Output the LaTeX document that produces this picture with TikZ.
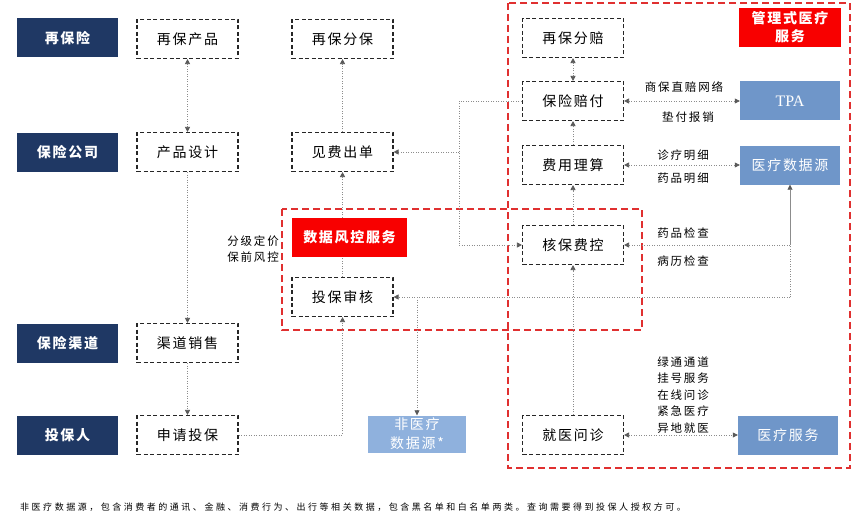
\documentclass[tikz,border=0pt]{standalone}
\usepackage{fontspec}
\setmainfont{Noto Sans CJK SC}
\newfontfamily\cjk[LetterSpace=12]{Noto Sans CJK SC}
\newfontfamily\cjkl[LetterSpace=16]{Noto Sans CJK SC}
\newfontfamily\cjkf[LetterSpace=28]{Noto Sans CJK SC}
\newfontfamily\tpaf{Liberation Serif}
\usetikzlibrary{arrows.meta}
\definecolor{navyc}{HTML}{1F3864}
\definecolor{bluec}{HTML}{6F96C9}
\definecolor{bluel}{HTML}{8FB1DD}
\definecolor{redc}{HTML}{F80000}
\definecolor{framec}{HTML}{E03030}
\definecolor{connc}{HTML}{8C8C8C}
\definecolor{tipc}{HTML}{595959}
\begin{document}
\begin{tikzpicture}[x=1pt,y=-1pt,
  base/.style={minimum width=101pt, minimum height=39pt, inner sep=0pt, align=center,
    font=\cjk\fontsize{14}{18}\selectfont},
  navy/.style={base, fill=navyc, text=white, font=\cjk\bfseries\fontsize{14}{18}\selectfont},
  dbox/.style={base, draw=black!85, line width=1.1pt, dash pattern=on 4pt off 2.5pt, fill=white},
  bbox/.style={base, fill=bluec, text=white, minimum width=100pt},
  rbox/.style={base, fill=redc, text=white, font=\cjk\bfseries\fontsize{14}{18}\selectfont},
  frame/.style={draw=framec, line width=2pt, dash pattern=on 7pt off 4pt},
  conn/.style={draw=connc, line width=0.7pt, dash pattern=on 1pt off 1.5pt},
  arr/.style={conn, -{Triangle[length=5pt,width=5pt,color=tipc]}},
  arrb/.style={conn, {Triangle[length=5pt,width=5pt,color=tipc]}-{Triangle[length=5pt,width=5pt,color=tipc]}},
  lbl/.style={inner sep=0pt, font=\cjkl\fontsize{11.5}{16.5}\selectfont, align=center}
]
\useasboundingbox (0,0) rectangle (864,516);
\fill[white] (0,0) rectangle (864,516);

% frames
\draw[frame] (508,3) rectangle (850,468);
\draw[frame] (282,209) rectangle (642,330);

% left navy boxes
\node[navy] (n1) at (67.5,38) {再保险};
\node[navy] (n2) at (67.5,152) {保险公司};
\node[navy] (n3) at (67.5,343) {保险渠道};
\node[navy] (n4) at (67.5,435) {投保人};

% column 2
\node[dbox] (zbcp) at (187.5,39) {再保产品};
\node[dbox] (cpsj) at (187.5,152) {产品设计};
\node[dbox] (qdxs) at (187.5,343) {渠道销售};
\node[dbox] (sqtb) at (187.5,435) {申请投保};

% column 3
\node[dbox] (zbfb) at (342.5,39) {再保分保};
\node[dbox] (jfcd) at (342.5,152) {见费出单};
\node[dbox] (tbsh) at (342.5,297) {投保审核};
\node[rbox, minimum width=115pt] (fk) at (349.5,237.5) {数据风控服务};

% column 4
\node[dbox] (zbfp) at (573,38) {再保分赔};
\node[dbox] (bxpf) at (573,101) {保险赔付};
\node[dbox] (fyls) at (573,165) {费用理算};
\node[dbox] (hbfk) at (573,245) {核保费控};
\node[dbox] (jywz) at (573,435) {就医问诊};

% column 5
\node[rbox, minimum width=102pt] (glsy) at (790,27.5) {管理式医疗\\服务};
\node[bbox] (tpa) at (790,101) {\tpaf\fontsize{16}{18}\selectfont TPA};
\node[bbox] (ylsj) at (790,165) {医疗数据源};
\node[bbox] (ylfw) at (788,435) {医疗服务};
\node[bbox, fill=bluel, minimum width=98pt, minimum height=37pt, font=\cjk\fontsize{14}{19}\selectfont] (fylsj) at (417,434) {非医疗\\数据源*};

% connectors
\draw[arrb] (zbcp.south) -- (cpsj.north);
\draw[arr] (cpsj.south) -- (qdxs.north);
\draw[arr] (qdxs.south) -- (sqtb.north);
\draw[arr] (sqtb.east) -| (tbsh.south);
\draw[conn] (tbsh.north) -- (tbsh.north |- fk.south);
\draw[arr] (jfcd.south |- fk.north) -- (jfcd.south);
\draw[arr] (jfcd.north) -- (zbfb.south);
\coordinate (vx) at (459,101);
\draw[conn] (bxpf.west) -- (vx) -- (vx |- hbfk.west);
\draw[arr] (vx |- hbfk.west) -- (hbfk.west);
\draw[arr] (vx |- jfcd.east) -- (jfcd.east);
\draw[arrb] (zbfp.south) -- (bxpf.north);
\draw[arr] (fyls.north) -- (bxpf.south);
\draw[arr] (hbfk.north) -- (fyls.south);
\draw[arr] (jywz.north) -- (hbfk.south);
\draw[arrb] (bxpf.east) -- (tpa.west);
\draw[arrb] (fyls.east) -- (ylsj.west);
\draw[arrb] (jywz.east) -- (ylfw.west);
\coordinate (my) at (ylsj.south |- tbsh.east);
\coordinate (mh) at (ylsj.south |- hbfk.east);
\draw[conn] (my) -- (mh);
\draw[draw=connc, line width=0.7pt, -{Triangle[length=5pt,width=5pt,color=tipc]}] (mh) -- (ylsj.south);
\draw[arr] (mh) -- (hbfk.east);
\draw[arr] (my) -- (tbsh.east);
\draw[arr] (fylsj.north |- tbsh.east) -- (fylsj.north);

% labels
\node[lbl, anchor=east] (l1) at (279,241) {分级定价};
\node[lbl, anchor=east] (l2) at (279,257) {保前风控};
\node[lbl] (l3) at (684,87) {商保直赔网络};
\node[lbl] (l4) at (688,117) {垫付报销};
\node[lbl] (l5) at (683,155) {诊疗明细};
\node[lbl] (l6) at (683,178) {药品明细};
\node[lbl] (l7) at (683,233) {药品检查};
\node[lbl] (l8) at (683,261) {病历检查};
\node[lbl] (l9) at (683,395) {绿通通道\\挂号服务\\在线问诊\\紧急医疗\\异地就医};

\node[inner sep=0pt, anchor=west, font=\cjkf\fontsize{9}{11}\selectfont] (fn) at (20,507)
  {非医疗数据源，包含消费者的通讯、金融、消费行为、出行等相关数据，包含黑名单和白名单两类。查询需要得到投保人授权方可。};
\end{tikzpicture}
\end{document}
